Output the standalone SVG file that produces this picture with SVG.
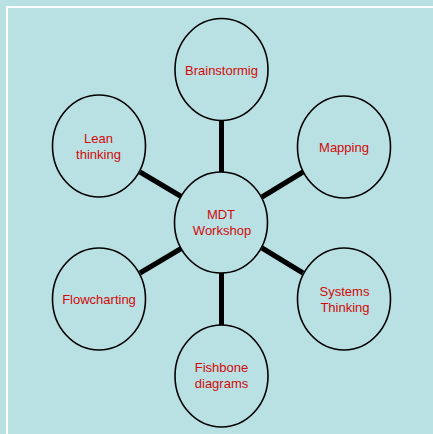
<svg xmlns="http://www.w3.org/2000/svg" width="433" height="434" viewBox="0 0 433 434">
<style>
.n ellipse{fill:#B9E0E3;stroke:#000;stroke-width:1.6}
.n text{font-family:"Liberation Sans",Arial,sans-serif;font-size:13px;fill:#D20A0A;text-anchor:middle}
.c line{stroke:#000;stroke-width:5}
</style>
<rect x="0" y="0" width="433" height="434" fill="#B9E0E3"/>
<path d="M7 434 V7 H433" fill="none" stroke="#FFFFFF" stroke-width="2"/>
<g class="c" id="connectors">
<line x1="221.5" y1="120" x2="221.5" y2="173"/>
<line x1="221.5" y1="273" x2="221.5" y2="326"/>
<line x1="140" y1="172" x2="182" y2="197"/>
<line x1="303" y1="172" x2="262" y2="197"/>
<line x1="140" y1="273" x2="182" y2="248"/>
<line x1="303" y1="273" x2="262" y2="248"/>
</g>
<g class="n" id="brainstorming"><ellipse cx="221.5" cy="69.5" rx="46.5" ry="51"/><text x="221.5" y="75">Brainstormig</text></g>
<g class="n" id="lean"><ellipse cx="99" cy="146" rx="46.5" ry="51"/><text x="98.5" y="143">Lean</text><text x="98.5" y="159">thinking</text></g>
<g class="n" id="mapping"><ellipse cx="344" cy="147" rx="46.5" ry="51"/><text x="344" y="152">Mapping</text></g>
<g class="n" id="mdt"><ellipse cx="221" cy="222.5" rx="46.5" ry="50.5"/><text x="221" y="219">MDT</text><text x="222" y="235">Workshop</text></g>
<g class="n" id="flowcharting"><ellipse cx="99" cy="299" rx="46.5" ry="51"/><text x="99" y="304">Flowcharting</text></g>
<g class="n" id="systems"><ellipse cx="344" cy="299" rx="46.5" ry="51"/><text x="344.5" y="296">Systems</text><text x="345" y="312">Thinking</text></g>
<g class="n" id="fishbone"><ellipse cx="221.5" cy="376" rx="46.5" ry="51"/><text x="221.5" y="372">Fishbone</text><text x="221.5" y="388">diagrams</text></g>
</svg>
